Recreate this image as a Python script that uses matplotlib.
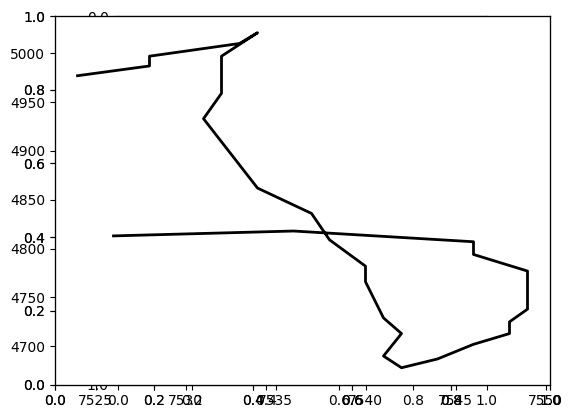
import matplotlib
matplotlib.use("Agg")
import matplotlib.pyplot as plt

# Path of the traced line (x, y)
x_vals = [7524, 7528, 7528, 7533, 7534, 7532, 7532, 7531, 7534, 7537, 7538,
          7540, 7540, 7541, 7542, 7541, 7542, 7544, 7546, 7548, 7548, 7549,
          7549, 7546, 7546, 7536, 7526]
y_vals = [4977, 4987, 4997, 5010, 5021, 4997, 4959, 4933, 4862, 4836, 4809,
          4782, 4766, 4729, 4713, 4690, 4678, 4687, 4702, 4713, 4725, 4738,
          4777, 4794, 4807, 4818, 4813]

W, H = 573, 418
fig = plt.figure(figsize=(W / 100, H / 100), dpi=100)
rect = [55 / W, (H - 384.5) / H, 495 / W, 368.5 / H]

# Hidden square axes underneath (inverted y, equal aspect)
ax_c = fig.add_axes(rect, label="c")
ax_c.set_xlim(0, 1)
ax_c.set_ylim(1, 0)
ax_c.set_aspect("equal")

# Empty default axes (white background)
ax_a1 = fig.add_axes(rect, label="a1")
ax_a2 = fig.add_axes(rect, label="a2")
ax_a2.patch.set_visible(False)

# Axes with the line
ax_b = fig.add_axes(rect, label="b")
ax_b.patch.set_visible(False)
ax_b.plot(x_vals, y_vals, color="black", lw=2)

fig.savefig("out.png", dpi=100)
